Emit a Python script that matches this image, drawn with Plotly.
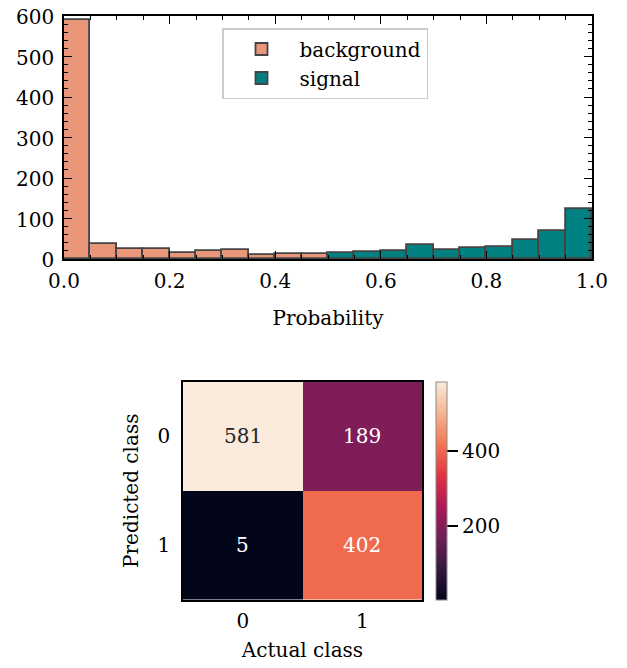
import numpy as np
import plotly.graph_objects as go

# ---------------- data ----------------
bin_edges = [round(0.05 * i, 2) for i in range(21)]
background_counts = [591, 37, 24, 25, 15, 20, 22, 11, 13, 12]
signal_counts = [14, 17, 21, 34, 23, 27, 30, 48, 70, 123]

cm_actual = ["0", "1"]
cm_predicted = ["0", "1"]
cm_values = [[581, 189],
             [5, 402]]

W, H = 627, 668
OFF = 8  # page body margin
FONT = "DejaVu Serif"
FS = 20

def px_x(p):
    return (p - OFF) / W

def px_y(p):
    return 1 - (p - OFF) / H

rocket = [
    [0.0, "#03051a"],
    [1 / 7, "#35193e"],
    [2 / 7, "#701f57"],
    [3 / 7, "#ad1759"],
    [4 / 7, "#e13342"],
    [5 / 7, "#f37651"],
    [6 / 7, "#f6b48f"],
    [1.0, "#faebdd"],
]

fig = go.Figure()

bg_left = bin_edges[:10]
sig_left = bin_edges[10:20]
bw = bin_edges[1] - bin_edges[0]

fig.add_trace(go.Bar(
    x=bg_left, y=background_counts, width=bw, offset=0,
    name="background", marker=dict(color="#e9967a", line=dict(color="#444444", width=1.8)),
    xaxis="x", yaxis="y",
))
fig.add_trace(go.Bar(
    x=sig_left, y=signal_counts, width=bw, offset=0,
    name="signal", marker=dict(color="#008080", line=dict(color="#444444", width=1.8)),
    xaxis="x", yaxis="y",
))

fig.add_trace(go.Heatmap(
    x=cm_actual, y=cm_predicted, z=cm_values,
    colorscale=rocket, xaxis="x2", yaxis="y2", showlegend=False,
    colorbar=dict(
        x=px_x(436), xanchor="left", thickness=11, xpad=0, ypad=0,
        len=218, lenmode="pixels", y=px_y(491), yanchor="middle",
        outlinecolor="#888888", outlinewidth=1,
        tickvals=[200, 400], ticks="outside", ticklen=11, tickwidth=1.5,
        tickcolor="black",
        tickfont=dict(family=FONT, size=FS, color="black"),
    ),
))

zmin = min(min(r) for r in cm_values)
zmax = max(max(r) for r in cm_values)
for i, row in enumerate(cm_values):
    for j, v in enumerate(row):
        frac = (v - zmin) / (zmax - zmin)
        fig.add_annotation(
            x=cm_actual[j], y=cm_predicted[i], xref="x2", yref="y2",
            text=str(v), showarrow=False,
            font=dict(family=FONT, size=FS, color="#262626" if frac > 0.85 else "white"),
        )

axis_common = dict(
    showgrid=False, zeroline=False, showline=True, linecolor="black", linewidth=1.5,
    mirror="allticks", ticks="inside", ticklen=8, tickwidth=1.2, tickcolor="black",
    tickfont=dict(family=FONT, size=FS, color="black"), automargin=False,
    ticklabeloverflow="allow",
)

fig.update_layout(
    width=W, height=H,
    margin=dict(l=0, r=0, t=0, b=0, autoexpand=False),
    paper_bgcolor="white", plot_bgcolor="white",
    barmode="overlay", bargap=0,
    font=dict(family=FONT, size=FS, color="black"),
    xaxis=dict(
        domain=[px_x(64), px_x(592)], anchor="y", range=[0, 1],
        tickvals=[0, 0.2, 0.4, 0.6, 0.8, 1.0], tickformat=".1f",
        minor=dict(dtick=0.05, ticks="inside", ticklen=4, tickcolor="black", tickwidth=1),
        title=dict(text="Probability", font=dict(family=FONT, size=FS), standoff=19),
        ticklabelstandoff=3,
        **axis_common,
    ),
    yaxis=dict(
        domain=[px_y(259), px_y(16)], anchor="x", range=[0, 600],
        dtick=100, ticklabelstandoff=4, ticklabelshift=1,
        minor=dict(dtick=20, ticks="inside", ticklen=4, tickcolor="black", tickwidth=1),
        **axis_common,
    ),
    xaxis2=dict(
        domain=[px_x(183), px_x(422)], anchor="y2", automargin=False,
        showgrid=False, zeroline=False, showline=True, linecolor="black", linewidth=1.5,
        mirror=True, ticks="", tickfont=dict(family=FONT, size=FS, color="black"),
        ticklabelstandoff=3,
        title=dict(text="Actual class", font=dict(family=FONT, size=FS), standoff=11),
    ),
    yaxis2=dict(
        domain=[px_y(599.5), px_y(382)], anchor="x2", autorange="reversed", automargin=False,
        showgrid=False, zeroline=False, showline=True, linecolor="black", linewidth=1.5,
        mirror=True, ticks="", tickfont=dict(family=FONT, size=FS, color="black"),
        ticklabelstandoff=7,
        title=dict(text="Predicted class", font=dict(family=FONT, size=FS), standoff=14),
    ),
    legend=dict(
        x=px_x(222), y=px_y(28), xanchor="left", yanchor="top",
        bgcolor="white", bordercolor="#cccccc", borderwidth=1.5,
        font=dict(family=FONT, size=FS, color="black"),
        itemwidth=66, tracegroupgap=8,
    ),
)

fig.write_html("out.html")
